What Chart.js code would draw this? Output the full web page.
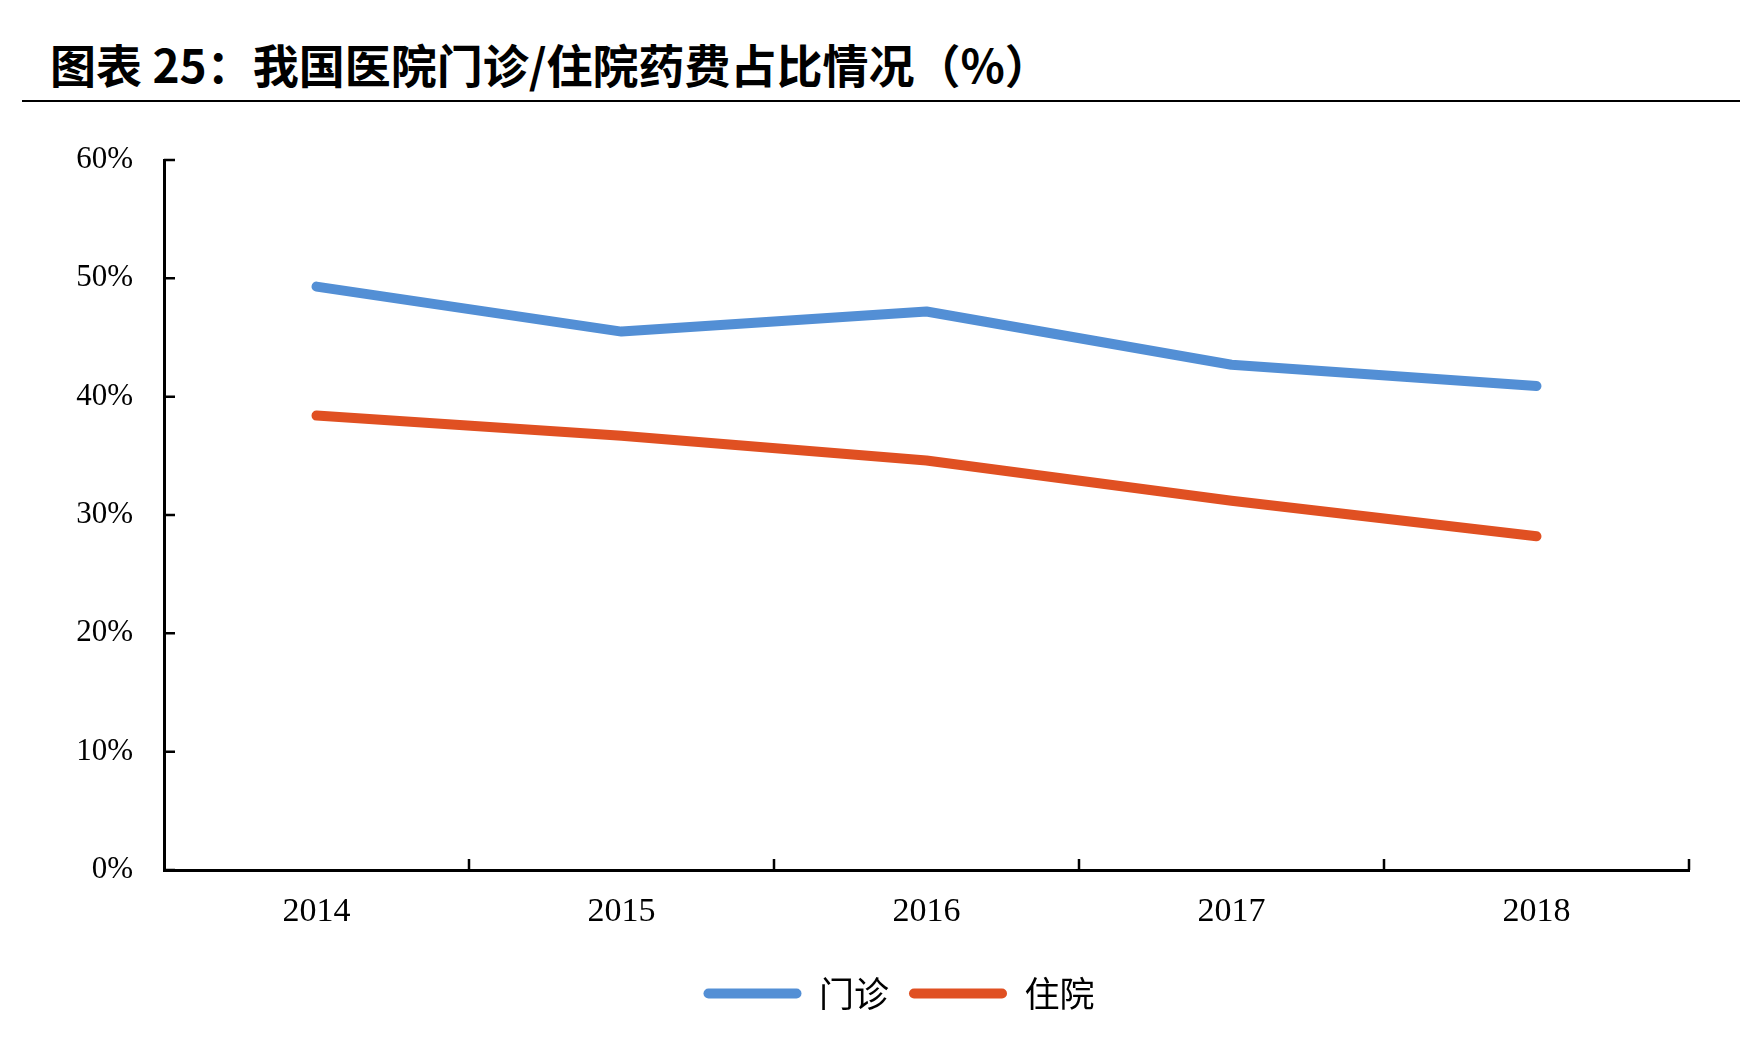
<!DOCTYPE html>
<html>
<head>
<meta charset="utf-8">
<script src="https://cdn.jsdelivr.net/npm/chart.js@4.4.1/dist/chart.umd.min.js"></script>
<style>
  body { margin: 0; background: #fff; width: 1740px; height: 1038px; position: relative; overflow: hidden; }
  #title { position: absolute; left: 50px; top: 40px; font: bold 46px 'Noto Sans CJK SC'; line-height: 46px; color: #000; white-space: nowrap; }
  #rule { position: absolute; left: 22px; right: 0; top: 100px; height: 2px; background: #000; }
  #wrap { position: absolute; left: 0; top: 110px; width: 1740px; height: 928px; }
</style>
</head>
<body>
<div id="title">图表 25：我国医院门诊/住院药费占比情况（%）</div>
<div id="rule"></div>
<div id="wrap"><canvas id="chart"></canvas></div>
<script>
'use strict';

var years = ['2014', '2015', '2016', '2017', '2018'];
var outpatient = [49.3, 45.5, 47.2, 42.7, 40.9];
var inpatient = [38.4, 36.7, 34.6, 31.2, 28.2];
var yTicks = [0, 10, 20, 30, 40, 50, 60];

var blue = '#538fd5';
var red = '#e05022';

// tick marks point into the plot, so draw them ourselves
var innerTicks = {
  id: 'innerTicks',
  afterLayout: function(chart) {
    // legend sits a bit right of the canvas centre in the original
    var lg = chart.legend;
    var shift = 899 - (lg.left + lg.right) / 2;
    lg.left += shift;
    lg.right += shift;
  },
  afterDraw: function(chart) {
    var ctx = chart.ctx;
    var x = chart.scales.x;
    var y = chart.scales.y;
    var area = chart.chartArea;
    ctx.save();
    ctx.strokeStyle = '#000';
    ctx.lineWidth = 2.5;
    ctx.beginPath();
    yTicks.forEach(function(v) {
      var py = y.getPixelForValue(v);
      ctx.moveTo(area.left, py);
      ctx.lineTo(area.left + 11, py);
    });
    for (var i = 1; i <= years.length; i++) {
      var px = x.getPixelForValue(i - 0.5);
      ctx.moveTo(px, area.bottom);
      ctx.lineTo(px, area.bottom - 11);
    }
    ctx.stroke();
    ctx.restore();
  }
};

var ctx = document.getElementById('chart');
var chart = new Chart(ctx, {
  type: 'line',
  data: {
    labels: years,
    datasets: [{
        label: '门诊',
        data: outpatient,
        borderColor: blue,
        backgroundColor: blue,
        borderWidth: 10,
        borderCapStyle: 'round',
        borderJoinStyle: 'round',
        pointRadius: 0,
        tension: 0
      },
      {
        label: '住院',
        data: inpatient,
        borderColor: red,
        backgroundColor: red,
        borderWidth: 10,
        borderCapStyle: 'round',
        borderJoinStyle: 'round',
        pointRadius: 0,
        tension: 0
      }
    ]
  },
  options: {
    responsive: true,
    maintainAspectRatio: false,
    animation: false,
    layout: {
      padding: { left: 0, right: 51, top: 50, bottom: 17 }
    },
    scales: {
      x: {
        offset: true,
        grid: { display: false, drawTicks: false },
        border: { color: '#000', width: 3 },
        ticks: {
          color: '#000',
          padding: 22,
          font: { family: 'Liberation Serif', size: 34 },
          maxRotation: 0
        },
        afterFit: function(scale) { scale.height = 86; }
      },
      y: {
        min: 0,
        max: 60,
        grid: { display: false, drawTicks: false },
        border: { color: '#000', width: 3 },
        ticks: {
          stepSize: 10,
          color: '#000',
          padding: 31,
          font: { family: 'Liberation Serif', size: 31 },
          callback: function(v) { return v + '%'; }
        },
        afterFit: function(scale) { scale.width = 164; }
      }
    },
    plugins: {
      tooltip: { enabled: false },
      legend: {
        position: 'bottom',
        labels: {
          color: '#000',
          boxWidth: 98,
          boxHeight: 10,
          useBorderRadius: true,
          borderRadius: 5,
          padding: 20,
          font: { family: 'Noto Sans CJK SC', size: 35 },
          generateLabels: function(chart) {
            var items = Chart.defaults.plugins.legend.labels.generateLabels(chart);
            items.forEach(function(it) { it.lineWidth = 0; });
            return items;
          }
        }
      }
    }
  },
  plugins: [innerTicks]
});
</script>
</body>
</html>
